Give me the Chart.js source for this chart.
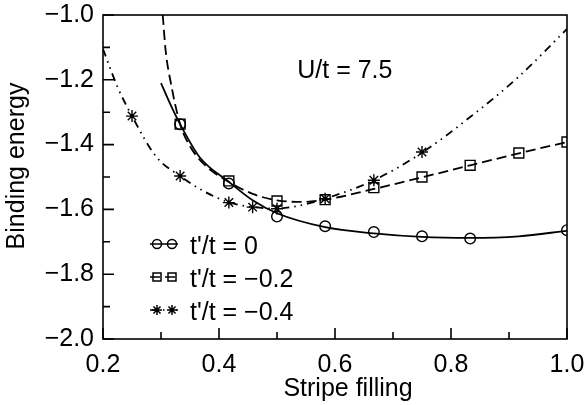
<!DOCTYPE html>
<html>
<head>
<meta charset="utf-8">
<script src="https://cdn.jsdelivr.net/npm/chart.js@4.4.0/dist/chart.umd.min.js"></script>
<style>
  html, body { margin: 0; padding: 0; background: #fff; }
  #wrap { width: 587px; height: 405px; }
</style>
</head>
<body>
<div id="wrap"><canvas id="bindingChart" width="587" height="405"></canvas></div>
<script>
// data

const seriesLabels = ["t'/t = 0", "t'/t = \u22120.2", "t'/t = \u22120.4"];

// computed points (markers)
const fill0 = [0.333, 0.417, 0.5, 0.583, 0.667, 0.75, 0.833, 1.0];
const energy0 = [-1.337, -1.52, -1.622, -1.652, -1.670, -1.683, -1.690, -1.664];

const fill2 = [0.333, 0.417, 0.5, 0.583, 0.667, 0.75, 0.833, 0.917, 1.0];
const energy2 = [-1.337, -1.512, -1.574, -1.570, -1.533, -1.500, -1.464, -1.426, -1.392];

const fill4 = [0.25, 0.333, 0.417, 0.458, 0.5, 0.583, 0.667, 0.75];
const energy4 = [-1.312, -1.497, -1.579, -1.593, -1.598, -1.567, -1.510, -1.423];

// fitted curves
const fit0X = [0.300, 0.316, 0.333, 0.367, 0.417, 0.458, 0.5, 0.583, 0.667, 0.75, 0.833, 0.917, 1.0];
const fit0Y = [-1.210, -1.275, -1.337, -1.440, -1.515, -1.572, -1.612, -1.655, -1.674, -1.685, -1.688, -1.683, -1.666];

const fit2X = [0.303, 0.308, 0.317, 0.333, 0.35, 0.375, 0.417, 0.458, 0.5, 0.542, 0.583, 0.667, 0.75, 0.833, 0.917, 1.0];
const fit2Y = [-1.0, -1.11, -1.21, -1.337, -1.405, -1.462, -1.515, -1.552, -1.572, -1.577, -1.570, -1.537, -1.501, -1.464, -1.427, -1.392];

const fit4X = [0.2, 0.225, 0.25, 0.292, 0.333, 0.375, 0.417, 0.458, 0.5, 0.542, 0.583, 0.667, 0.75, 0.833, 0.917, 1.0];
const fit4Y = [-1.105, -1.222, -1.312, -1.438, -1.497, -1.545, -1.578, -1.593, -1.597, -1.587, -1.567, -1.510, -1.425, -1.315, -1.190, -1.043];

const annotationText = 'U/t = 7.5';
const xTitle = 'Stripe filling';
const yTitle = 'Binding energy';

const FONT = '"Liberation Sans", Arial, Helvetica, sans-serif';

const toPoints = function (xs, ys) {
    return xs.map((x, i) => ({ x: x, y: ys[i] }));
}

const dashStyles = [[], [10, 5], [8, 5, 1.5, 5, 1.5, 5]];
const markerStyles = ['circle', 'rect', 'star'];

// draws one legend glyph
const drawMarker = function (ctx, style, x, y) {
    ctx.beginPath();
    if (style === 'circle') {
        ctx.arc(x, y, 4.5, 0, Math.PI * 2);
    } else if (style === 'rect') {
        ctx.rect(x - 4, y - 4, 8, 8);
    } else {
        for (let a = 0; a < 4; a++) {
            const ang = a * Math.PI / 4;
            ctx.moveTo(x - 5 * Math.cos(ang), y - 5 * Math.sin(ang));
            ctx.lineTo(x + 5 * Math.cos(ang), y + 5 * Math.sin(ang));
        }
    }
    ctx.stroke();
}

const framePlugin = {
    id: 'frame',
    afterDraw(chart) {
        const ctx = chart.ctx;
        const ca = chart.chartArea;
        const xs = chart.scales.x;
        const ys = chart.scales.y;
        ctx.save();
        ctx.strokeStyle = '#000';
        ctx.lineWidth = 1.6;
        ctx.setLineDash([]);
        ctx.strokeRect(ca.left, ca.top, ca.right - ca.left, ca.bottom - ca.top);

        // inward ticks, bottom and left
        ctx.beginPath();
        for (let i = 0; i <= 8; i++) {
            const px = xs.getPixelForValue(xs.min + i * 0.1);
            const len = i % 2 === 0 ? 11 : 7;
            ctx.moveTo(px, ca.bottom);
            ctx.lineTo(px, ca.bottom - len);
        }
        for (let i = 0; i <= 10; i++) {
            const py = ys.getPixelForValue(ys.min + i * 0.1);
            const len = i % 2 === 0 ? 11 : 7;
            ctx.moveTo(ca.left, py);
            ctx.lineTo(ca.left + len, py);
        }
        ctx.stroke();

        // axis titles
        ctx.fillStyle = '#000';
        ctx.font = '25px ' + FONT;
        ctx.textAlign = 'center';
        ctx.textBaseline = 'middle';
        ctx.fillText(xTitle, 348, 389);
        ctx.save();
        ctx.translate(17, 166);
        ctx.rotate(-Math.PI / 2);
        ctx.fillText(yTitle, 0, 0);
        ctx.restore();

        // annotation
        ctx.fillText(annotationText, xs.getPixelForValue(0.617), ys.getPixelForValue(-1.172));

        // legend
        const rowsY = [244, 277, 310];
        ctx.lineWidth = 1.5;
        rowsY.forEach((ry, k) => {
            ctx.setLineDash(dashStyles[k]);
            ctx.beginPath();
            ctx.moveTo(150, ry);
            ctx.lineTo(178, ry);
            ctx.stroke();
            ctx.setLineDash([]);
            drawMarker(ctx, markerStyles[k], 157, ry);
            drawMarker(ctx, markerStyles[k], 172, ry);
            ctx.textAlign = 'left';
            ctx.fillText(seriesLabels[k], 190, ry + 3);
        });
        ctx.restore();
    }
};

const curveSet = function (xs, ys, dash) {
    return {
        data: toPoints(xs, ys),
        showLine: true,
        borderColor: '#000',
        borderWidth: 1.8,
        borderDash: dash,
        pointRadius: 0,
        pointHoverRadius: 0,
        cubicInterpolationMode: 'monotone',
        fill: false,
        order: 2
    };
}

const markerSet = function (xs, ys, style, radius) {
    return {
        data: toPoints(xs, ys),
        showLine: false,
        pointStyle: style,
        pointRadius: radius,
        pointBorderColor: '#000',
        pointBackgroundColor: 'rgba(0,0,0,0)',
        pointBorderWidth: 1.4,
        order: 1
    };
}

new Chart('bindingChart', {
    type: 'scatter',
    data: {
        datasets: [
            markerSet(fill0, energy0, 'circle', 5.3),
            markerSet(fill2, energy2, 'rect', 7),
            markerSet(fill4, energy4, 'star', 6),
            curveSet(fit0X, fit0Y, dashStyles[0]),
            curveSet(fit2X, fit2Y, dashStyles[1]),
            curveSet(fit4X, fit4Y, dashStyles[2])
        ]
    },
    options: {
        responsive: false,
        animation: false,
        events: [],
        layout: { padding: { top: 15, right: 20, left: 0, bottom: 0 } },
        plugins: {
            legend: { display: false },
            tooltip: { enabled: false }
        },
        scales: {
            x: {
                type: 'linear',
                min: 0.2,
                max: 1.0,
                grid: { display: false, drawTicks: false },
                border: { display: false },
                ticks: {
                    stepSize: 0.2,
                    color: '#000',
                    padding: 11,
                    maxRotation: 0,
                    font: { family: FONT, size: 25 },
                    callback: (v) => v.toFixed(1)
                },
                afterFit: (scale) => {
                    scale.height = 66;
                    scale.paddingLeft = 0;
                    scale.paddingRight = 0;
                }
            },
            y: {
                type: 'linear',
                min: -2.0,
                max: -1.0,
                grid: { display: false, drawTicks: false },
                border: { display: false },
                ticks: {
                    stepSize: 0.2,
                    color: '#000',
                    padding: 9,
                    font: { family: FONT, size: 25 },
                    callback: (v) => v.toFixed(1).replace('-', '\u2212')
                },
                afterFit: (scale) => {
                    scale.width = 103;
                    scale.paddingTop = 0;
                    scale.paddingBottom = 0;
                }
            }
        }
    },
    plugins: [framePlugin]
});
</script>
</body>
</html>
